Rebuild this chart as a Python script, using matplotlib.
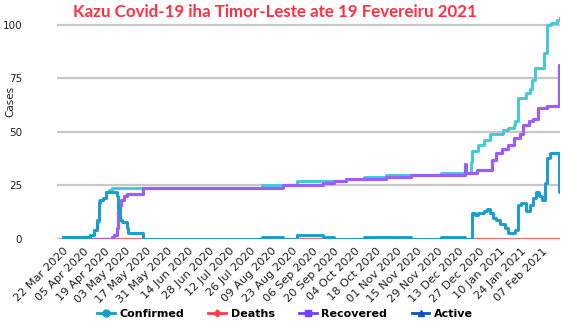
import numpy as np
import pandas as pd
import matplotlib
matplotlib.use('Agg')
import matplotlib.pyplot as plt
import matplotlib.dates as mdates
from matplotlib.lines import Line2D

# change points (value holds until the next date)
confirmed_dates = ['2020-03-22', '2020-04-09', '2020-04-12', '2020-04-14', '2020-04-15',
                   '2020-04-18', '2020-04-20', '2020-04-22', '2020-04-24', '2020-08-03',
                   '2020-08-26', '2020-09-28', '2020-10-10', '2020-10-25', '2020-12-01',
                   '2020-12-21', '2020-12-22', '2020-12-26', '2020-12-30', '2021-01-03',
                   '2021-01-12', '2021-01-15', '2021-01-19', '2021-01-20', '2021-01-22',
                   '2021-01-27', '2021-01-30', '2021-01-31', '2021-02-02', '2021-02-08',
                   '2021-02-10', '2021-02-13', '2021-02-17', '2021-02-19']
confirmed = [1, 2, 4, 8, 18, 19, 22, 23, 24, 25,
             27, 28, 29, 30, 31,
             36, 41, 44, 46, 49,
             51, 52, 53, 55, 66,
             68, 70, 74, 80, 87,
             100, 101, 102, 103]

recovered_dates = ['2020-03-22', '2020-04-24', '2020-04-25', '2020-04-27', '2020-04-28',
                   '2020-04-29', '2020-04-30', '2020-05-02', '2020-05-04', '2020-05-15',
                   '2020-08-17', '2020-09-13', '2020-09-20', '2020-09-28', '2020-10-25',
                   '2020-11-11', '2020-12-17', '2020-12-18', '2020-12-25', '2021-01-04',
                   '2021-01-07', '2021-01-11', '2021-01-15', '2021-01-19', '2021-01-23',
                   '2021-01-25', '2021-01-29', '2021-02-01', '2021-02-04', '2021-02-10',
                   '2021-02-18', '2021-02-19']
recovered = [0, 1, 2, 5, 13,
             16, 18, 20, 21, 24,
             25, 26, 27, 28, 29,
             30, 35, 31, 32, 37,
             40, 42, 44, 47, 49,
             53, 55, 56, 61, 62,
             81, 81]

active_dates = ['2020-03-22', '2020-04-09', '2020-04-12', '2020-04-14', '2020-04-15',
                '2020-04-16', '2020-04-18', '2020-04-20', '2020-04-27', '2020-04-28',
                '2020-04-29', '2020-05-01', '2020-05-04', '2020-05-05', '2020-05-15',
                '2020-08-03', '2020-08-17', '2020-08-26', '2020-09-13', '2020-09-20',
                '2020-10-10', '2020-11-11', '2020-12-01', '2020-12-17', '2020-12-22',
                '2020-12-24', '2020-12-26', '2020-12-30', '2021-01-01', '2021-01-03',
                '2021-01-05', '2021-01-07', '2021-01-10', '2021-01-13', '2021-01-15',
                '2021-01-20', '2021-01-22', '2021-01-24', '2021-01-27', '2021-01-30',
                '2021-02-01', '2021-02-03', '2021-02-05', '2021-02-07', '2021-02-09',
                '2021-02-10', '2021-02-12', '2021-02-18', '2021-02-19']
active = [1, 2, 4, 9, 17,
          18, 19, 22, 20, 14,
          9, 8, 5, 3, 0,
          1, 0, 2, 1, 0,
          1, 0, 1, 0, 12,
          11, 12, 13, 14, 12,
          10, 9, 7, 5, 3,
          4, 16, 17, 13, 16,
          19, 22, 20, 18, 26,
          38, 40, 22, 22]

deaths_dates = ['2020-03-22', '2021-02-19']
deaths = [0, 0]

tick_dates = pd.date_range('2020-03-22', '2021-02-07', freq='14D')
y_ticks = [0, 25, 50, 75, 100]

W, H = 564, 323
fig = plt.figure(figsize=(W / 100, H / 100), dpi=100)
ax = fig.add_axes([57 / W, 1 - 239 / H, (560 - 57) / W, 225 / H])

ax.plot(pd.to_datetime(confirmed_dates), confirmed, drawstyle='steps-post',
        color='#3fcbd9', lw=2.1, zorder=2)
ax.plot(pd.to_datetime(deaths_dates), deaths, color='#ff4646', lw=1.8, zorder=3)
ax.plot(pd.to_datetime(recovered_dates), recovered, drawstyle='steps-post',
        color='#9b5ef7', lw=2.3, zorder=4)
ax.plot(pd.to_datetime(active_dates), active, drawstyle='steps-post',
        color='#169dcf', lw=2.1, zorder=5)

ax.set_ylim(0, 105)
ax.set_xlim(pd.Timestamp('2020-03-18'), pd.Timestamp('2021-02-19'))
ax.set_yticks(y_ticks)
ax.set_xticks(tick_dates)
ax.xaxis.set_major_formatter(mdates.DateFormatter('%d %b %Y'))
ax.grid(axis='y', color='#c8c8c8', lw=1.6)
ax.set_axisbelow(True)
for s in ax.spines.values():
    s.set_visible(False)
ax.tick_params(axis='both', length=0, colors='#222222')
ax.tick_params(axis='y', pad=25, labelsize=7.5)
ax.tick_params(axis='x', pad=5, labelsize=8.2)
plt.setp(ax.get_xticklabels(), rotation=45, ha='right', rotation_mode='anchor')

fig.text(10 / W, 1 - 101 / H, 'Cases', rotation=90, ha='center', va='center',
         fontsize=7.5, color='#222222')
fig.text(275 / W, 1 - 12 / H, 'Kazu Covid-19 iha Timor-Leste ate 19 Fevereiru 2021',
         ha='center', va='center', fontsize=12.2, fontweight='bold', color='#ff3040',
         family='Lato')

handles = [
    Line2D([], [], color='#12a0c8', marker='o', ms=5, lw=2),
    Line2D([], [], color='#ff3a48', marker='D', ms=3.5, lw=2),
    Line2D([], [], color='#7040ff', marker='s', ms=5, lw=2),
    Line2D([], [], color='#1050c0', marker='^', ms=5, lw=2),
]
fig.legend(handles, ['Confirmed', 'Deaths', 'Recovered', 'Active'], loc='center',
           bbox_to_anchor=(285 / W, 1 - 314 / H), ncol=4, frameon=False,
           prop={'weight': 'bold', 'size': 8}, handlelength=1.6, handletextpad=0.4,
           columnspacing=2.2)

fig.savefig('out.png', dpi=100)
